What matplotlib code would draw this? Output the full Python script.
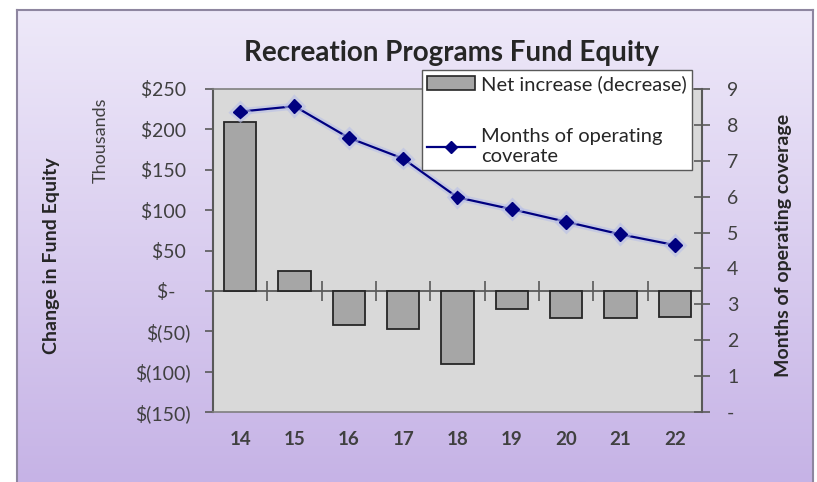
import numpy as np
import matplotlib
matplotlib.use("Agg")
import matplotlib.pyplot as plt
from matplotlib.lines import Line2D
from matplotlib.patches import Patch
import matplotlib.patheffects as pe

# ---- data ----
years = ["14", "15", "16", "17", "18", "19", "20", "21", "22"]
net_change = [209, 24, -42, -47, -91, -22, -34, -34, -32]          # $ thousands
months_coverage = [8.37, 8.52, 7.64, 7.06, 5.98, 5.65, 5.30, 4.95, 4.65]
left_ticks = [250, 200, 150, 100, 50, 0, -50, -100, -150]
left_tick_labels = ["$250 ", "$200 ", "$150 ", "$100 ", "$50 ", "$-   ", "$(50)", "$(100)", "$(150)"]
right_ticks = [0, 1, 2, 3, 4, 5, 6, 7, 8, 9]
right_tick_labels = ["-", "1", "2", "3", "4", "5", "6", "7", "8", "9"]

FONT = ["Lato", "DejaVu Sans"]
plt.rcParams["font.family"] = FONT

W, H = 817, 482
fig = plt.figure(figsize=(W / 100, H / 100), dpi=100)
fig.patch.set_facecolor("white")

# purple gradient panel
bg = fig.add_axes([17 / W, 0, (813 - 17) / W, 1 - 10 / H], zorder=-10)
grad = np.linspace(0, 1, 256).reshape(-1, 1)
top_c = np.array([0xEE, 0xE9, 0xF9]) / 255
bot_c = np.array([0xC6, 0xB3, 0xE6]) / 255
img = top_c[None, None, :] * (1 - grad[:, :, None]) + bot_c[None, None, :] * grad[:, :, None]
bg.imshow(img, aspect="auto", extent=[0, 1, 0, 1])
bg.set_xlim(0, 1); bg.set_ylim(0, 1)
bg.set_xticks([]); bg.set_yticks([])
for s in bg.spines.values():
    s.set_color("#8E86A0")
    s.set_linewidth(1.5)
bg.spines["bottom"].set_visible(False)

# main axes
ax = fig.add_axes([213 / W, 1 - 412 / H, (702 - 213) / W, (412 - 89) / H])
ax.set_facecolor("#D9D9D9")
x = np.arange(len(years))
ax.bar(x, net_change, width=0.59, color="#A6A6A6", edgecolor="#262626", linewidth=1.3, zorder=3)
ax.set_xlim(-0.5, len(years) - 0.5)
ax.set_ylim(-150, 250)
ax.set_yticks(left_ticks)
ax.set_yticklabels(left_tick_labels)
ax.set_xticks(x)
ax.set_xticklabels(years, fontweight="bold")
ax.tick_params(axis="x", length=0, pad=14, labelsize=13.5, colors="#404040")
ax.tick_params(axis="y", length=6, width=1.2, color="#595959", labelsize=14,
               labelcolor="#404040", pad=10)
for s in ax.spines.values():
    s.set_color("#7F7F7F")
    s.set_linewidth(1.2)
ax.spines["left"].set_color("#595959")
ax.spines["left"].set_linewidth(1.5)

# horizontal category axis at zero with crossing tick marks between categories
ax.axhline(0, color="#595959", linewidth=1.3, zorder=2)
ax.plot(x[:-1] + 0.5, np.zeros(len(x) - 1), linestyle="none", marker="|",
        markersize=14, markeredgewidth=1.2, color="#595959", zorder=2)

# secondary axis
ax2 = ax.twinx()
ax2.set_ylim(0, 9)
ax2.set_yticks(right_ticks)
ax2.set_yticklabels(right_tick_labels)
ax2.tick_params(axis="y", direction="inout", length=12, width=1.2, color="#595959",
                labelsize=14, labelcolor="#404040", pad=12)
ax2.spines["right"].set_color("#595959")
ax2.spines["right"].set_linewidth(1.5)
for k in ("left", "top", "bottom"):
    ax2.spines[k].set_visible(False)
ax2.plot(x, months_coverage, color="#000080", linewidth=1.6, marker="D", markersize=7,
         markerfacecolor="#000080", markeredgecolor="#000080", zorder=5,
         path_effects=[pe.Stroke(linewidth=5, foreground="#B8BFE8", alpha=0.6), pe.Normal()])

# titles and axis labels
fig.text(452 / W, 1 - 53 / H, "Recreation Programs Fund Equity", ha="center", va="center",
         fontsize=20, fontweight="bold", color="#262626")
fig.text(52 / W, 1 - 256 / H, "Change in Fund Equity", rotation=90, ha="center", va="center",
         fontsize=14, fontweight="bold", color="#262626")
fig.text(101 / W, 1 - 140 / H, "Thousands", rotation=90, ha="center", va="center",
         fontsize=13, color="#404040")
fig.text(784 / W, 1 - 245 / H, "Months of operating coverage", rotation=90, ha="center",
         va="center", fontsize=14, fontweight="bold", color="#262626")

# legend
handles = [Patch(facecolor="#A6A6A6", edgecolor="#262626", linewidth=1.2),
           Line2D([0], [0], color="#000080", marker="D", markersize=6, linewidth=1.6)]
labels = ["Net increase (decrease)", "Months of operating\ncoverate"]
leg = fig.legend(handles, labels, loc="upper left", bbox_to_anchor=(422 / W, 1 - 70 / H),
                 frameon=True, fancybox=False, fontsize=14.5, handlelength=2.4,
                 labelspacing=1.75, borderpad=0.25, handletextpad=0.3, borderaxespad=0)
leg.get_frame().set_edgecolor("#595959")
leg.get_frame().set_linewidth(1.0)
leg.get_frame().set_facecolor("white")
leg.get_frame().set_alpha(1)
for t in leg.get_texts():
    t.set_color("#262626")
leg.set_zorder(20)

fig.savefig("out.png", dpi=100)
